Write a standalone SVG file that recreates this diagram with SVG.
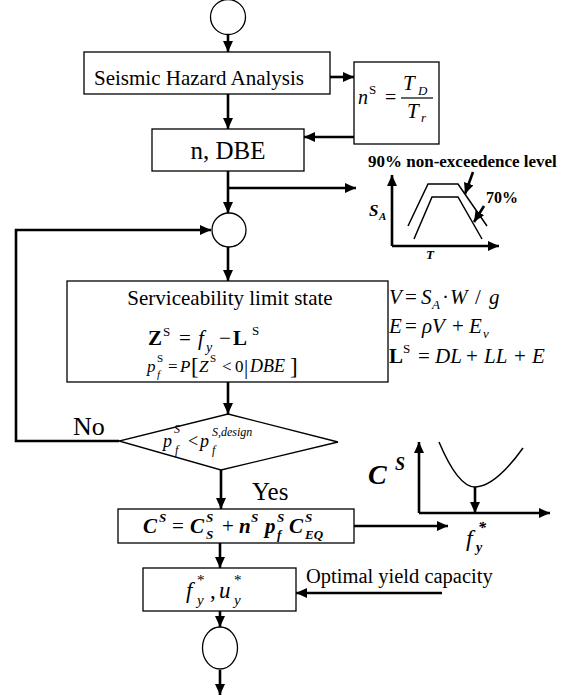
<svg xmlns="http://www.w3.org/2000/svg" width="564" height="698" viewBox="0 0 564 698">
<defs>
<marker id="ah" markerUnits="userSpaceOnUse" markerWidth="12" markerHeight="10" refX="11" refY="5" orient="auto">
<path d="M0,0 L11,5 L0,10 z" fill="#000"/>
</marker>
<style>
.box{fill:#fff;stroke:#000;stroke-width:1.3}
.conn{fill:none;stroke:#000;stroke-width:2.6}
.thin{fill:none;stroke:#000;stroke-width:1.5}
text{font-family:"Liberation Serif","Times New Roman",serif;fill:#000}
.it{font-style:italic}
.b{font-weight:bold}
.bi{font-weight:bold;font-style:italic}
</style>
</defs>
<rect width="564" height="698" fill="#fff"/>

<g id="connectors">
<line class="conn" x1="228" y1="35" x2="228" y2="52" marker-end="url(#ah)"/>
<line class="conn" x1="330" y1="77" x2="354" y2="77" marker-end="url(#ah)"/>
<line class="conn" x1="228" y1="94" x2="228" y2="129" marker-end="url(#ah)"/>
<line class="conn" x1="354" y1="137" x2="304" y2="137" marker-end="url(#ah)"/>
<line class="conn" x1="228" y1="171" x2="228" y2="213" marker-end="url(#ah)"/>
<line class="conn" x1="228" y1="188" x2="356" y2="188" marker-end="url(#ah)"/>
<polyline class="conn" points="119,441 16,441 16,230 211,230" marker-end="url(#ah)"/>
<line class="conn" x1="228" y1="247" x2="228" y2="281" marker-end="url(#ah)"/>
<line class="conn" x1="228" y1="382" x2="228" y2="414" marker-end="url(#ah)"/>
<line class="conn" x1="221" y1="470" x2="221" y2="509" marker-end="url(#ah)"/>
<line class="conn" x1="354" y1="526" x2="448" y2="526" marker-end="url(#ah)"/>
<line class="conn" x1="220" y1="543" x2="220" y2="568" marker-end="url(#ah)"/>
<line class="conn" x1="442" y1="593" x2="296" y2="593" marker-end="url(#ah)"/>
<line class="conn" x1="220" y1="611" x2="220" y2="627" marker-end="url(#ah)"/>
<line class="conn" x1="220" y1="670" x2="220" y2="695" marker-end="url(#ah)"/>
</g>

<g id="start">
<circle class="box" cx="228" cy="17" r="17.5"/>
</g>

<g id="seismic">
<rect class="box" x="84" y="52" width="246" height="42"/>
<text x="199" y="85" font-size="21" text-anchor="middle">Seismic Hazard Analysis</text>
</g>

<g id="ns-box">
<rect class="box" x="354" y="62" width="85" height="82"/>
<text class="it" x="358" y="104" font-size="20">n</text>
<text x="369" y="94" font-size="13">S</text>
<text x="385" y="104" font-size="20">=</text>
<text class="it" x="403" y="90" font-size="21">T</text>
<text class="it" x="418" y="95" font-size="13">D</text>
<line x1="401" y1="98" x2="433" y2="98" stroke="#000" stroke-width="1.2"/>
<text class="it" x="407" y="118" font-size="21">T</text>
<text class="it" x="421" y="122" font-size="13">r</text>
</g>

<g id="dbe">
<rect class="box" x="152" y="129" width="152" height="42"/>
<text x="228" y="159" font-size="25" text-anchor="middle">n, DBE</text>
</g>

<g id="spectrum">
<line class="conn" x1="392" y1="246" x2="392" y2="175" marker-end="url(#ah)"/>
<line class="conn" x1="392" y1="246" x2="499" y2="246" marker-end="url(#ah)"/>
<polyline class="thin" points="408,226 428,184 458,184 487,226"/>
<polyline class="thin" points="414,239 432,197 458,197 482,239"/>
<line class="conn" x1="473" y1="172" x2="465" y2="194" marker-end="url(#ah)"/>
<line class="conn" x1="484" y1="206" x2="474" y2="222" marker-end="url(#ah)"/>
<text class="b" x="368" y="167" font-size="17">90% non-exceedence level</text>
<text class="b" x="486" y="203" font-size="16">70%</text>
<text class="bi" x="369" y="216" font-size="17">S</text>
<text class="bi" x="379" y="220" font-size="11">A</text>
<text class="bi" x="426" y="259" font-size="13">T</text>
</g>

<g id="merge">
<circle class="box" cx="229" cy="230" r="17"/>
</g>

<g id="serviceability">
<rect class="box" x="67" y="281" width="321" height="101"/>
<text x="230" y="305" font-size="21" text-anchor="middle">Serviceability limit state</text>
<text class="b" x="148" y="345" font-size="21">Z</text>
<text x="163" y="336" font-size="13">S</text>
<text x="179" y="345" font-size="21">=</text>
<text class="it" x="198" y="345" font-size="21">f</text>
<text class="it" x="206" y="352" font-size="14">y</text>
<text x="219" y="345" font-size="21">−</text>
<text class="b" x="233" y="345" font-size="21">L</text>
<text x="252" y="335" font-size="13">S</text>
<text class="it" x="147" y="372" font-size="17">p</text>
<text x="157" y="362" font-size="11">S</text>
<text class="it" x="157" y="378" font-size="11">f</text>
<text x="168" y="372" font-size="17">=</text>
<text class="it" x="180" y="372" font-size="17">P</text>
<text x="191" y="374" font-size="23">[</text>
<text class="it" x="199" y="372" font-size="17">Z</text>
<text x="210" y="362" font-size="11">S</text>
<text x="222" y="372" font-size="17">&lt;</text>
<text x="235" y="372" font-size="17">0</text>
<text x="244" y="374" font-size="21">|</text>
<text class="it" x="250" y="372" font-size="18">DBE</text>
<text x="290" y="374" font-size="23">]</text>
</g>

<g id="loads">
<text class="it" x="389" y="304" font-size="21">V</text>
<text x="405" y="304" font-size="21">=</text>
<text class="it" x="421" y="304" font-size="21">S</text>
<text class="it" x="432" y="309" font-size="13">A</text>
<text x="442" y="304" font-size="21">·</text>
<text class="it" x="450" y="304" font-size="21">W</text>
<text x="475" y="304" font-size="21">/</text>
<text class="it" x="489" y="304" font-size="21">g</text>
<text class="it" x="389" y="333" font-size="21">E</text>
<text x="405" y="333" font-size="21">=</text>
<text class="it" x="422" y="333" font-size="21">ρV</text>
<text x="452" y="333" font-size="21">+</text>
<text class="it" x="469" y="333" font-size="21">E</text>
<text class="it" x="483" y="338" font-size="13">v</text>
<text class="b" x="389" y="363" font-size="21">L</text>
<text x="403" y="353" font-size="13">S</text>
<text x="418" y="363" font-size="21">=</text>
<text class="it" x="435" y="363" font-size="21">DL</text>
<text x="466" y="363" font-size="21">+</text>
<text class="it" x="484" y="363" font-size="21">LL</text>
<text x="514" y="363" font-size="21">+</text>
<text class="it" x="532" y="363" font-size="21">E</text>
</g>

<g id="decision">
<polygon class="box" points="228,414 338,442 221,470 119,441"/>
<text class="it" x="163" y="447" font-size="18">p</text>
<text class="it" x="174" y="433" font-size="12">S</text>
<text class="it" x="175" y="454" font-size="12">f</text>
<text x="188" y="447" font-size="18">&lt;</text>
<text class="it" x="200" y="447" font-size="18">p</text>
<text class="it" x="212" y="436" font-size="12">S,design</text>
<text class="it" x="212" y="454" font-size="12">f</text>
</g>

<g id="labels">
<text x="73" y="435" font-size="26">No</text>
<text x="252" y="500" font-size="25">Yes</text>
</g>

<g id="cost">
<rect class="box" x="118" y="509" width="236" height="34"/>
<text class="bi" x="143" y="533" font-size="21">C</text>
<text class="bi" x="159" y="522" font-size="13">S</text>
<text x="172" y="533" font-size="21">=</text>
<text class="bi" x="190" y="533" font-size="21">C</text>
<text class="bi" x="206" y="522" font-size="13">S</text>
<text class="bi" x="206" y="539" font-size="13">S</text>
<text x="222" y="533" font-size="21">+</text>
<text class="bi" x="239" y="533" font-size="21">n</text>
<text class="bi" x="251" y="522" font-size="13">S</text>
<text class="bi" x="265" y="533" font-size="21">p</text>
<text class="bi" x="277" y="522" font-size="13">S</text>
<text class="bi" x="277" y="539" font-size="13">f</text>
<text class="bi" x="289" y="533" font-size="21">C</text>
<text class="bi" x="305" y="522" font-size="13">S</text>
<text class="bi" x="305" y="539" font-size="13">EQ</text>
</g>

<g id="cost-plot">
<line class="conn" x1="419" y1="513" x2="419" y2="442" marker-end="url(#ah)"/>
<line class="conn" x1="419" y1="513" x2="550" y2="513" marker-end="url(#ah)"/>
<path class="thin" d="M439,442 Q458,487 475,487 Q495,487 523,448"/>
<line class="conn" x1="475" y1="487" x2="475" y2="513" marker-end="url(#ah)"/>
<text class="bi" x="368" y="484" font-size="28">C</text>
<text class="bi" x="395" y="470" font-size="18">S</text>
<text class="it" x="466" y="546" font-size="24">f</text>
<text class="bi" x="476" y="552" font-size="14">y</text>
<text class="bi" x="478" y="533" font-size="16">*</text>
</g>

<g id="optimum">
<rect class="box" x="143" y="568" width="153" height="43"/>
<text class="it" x="186" y="598" font-size="23">f</text>
<text class="it" x="197" y="605" font-size="15">y</text>
<text x="197" y="585" font-size="15">*</text>
<text x="210" y="598" font-size="23">,</text>
<text class="it" x="219" y="598" font-size="23">u</text>
<text class="it" x="234" y="605" font-size="15">y</text>
<text x="234" y="585" font-size="15">*</text>
<text x="306" y="583" font-size="20.5">Optimal yield capacity</text>
</g>

<g id="end">
<ellipse class="box" cx="220" cy="648" rx="17.5" ry="21"/>
</g>
</svg>
